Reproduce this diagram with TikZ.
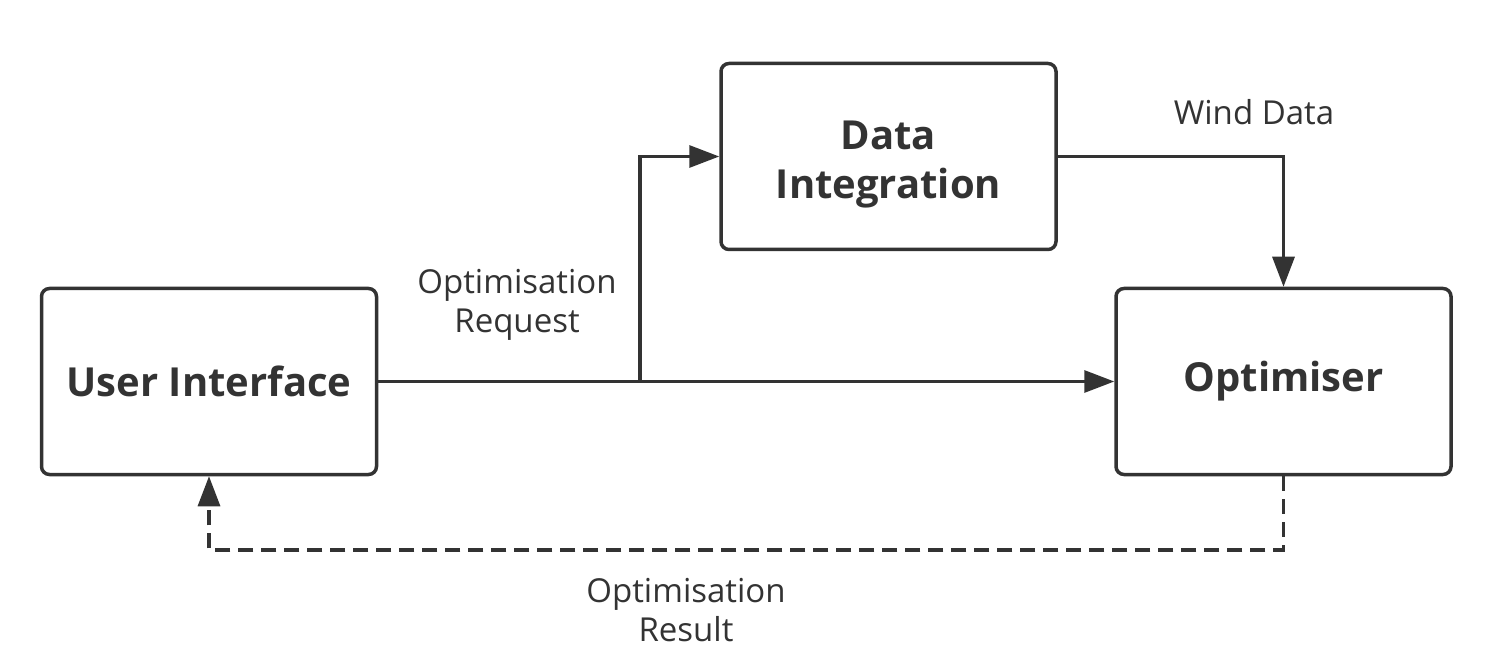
\documentclass[tikz,border=0pt]{standalone}
\usepackage{fontspec}
\setmainfont{Open Sans}
\usetikzlibrary{arrows.meta}
\definecolor{ink}{HTML}{333333}
\tikzset{
  box/.style={draw=ink, line width=1.75pt, rounded corners=4pt, minimum width=167.5pt, minimum height=93pt, align=center, text=ink, font=\bfseries\fontsize{20}{24.5}\selectfont, inner sep=0pt},
  lbl/.style={text=ink, align=center, font=\fontsize{16.5}{19.5}\selectfont, inner sep=0pt},
  conn/.style={draw=ink, line width=1.6pt, -{Triangle[length=15pt,width=11pt]}},
  dashconn/.style={conn, dash pattern=on 7.5pt off 4pt}
}
\begin{document}
\begin{tikzpicture}[x=0.5pt,y=-0.5pt]
\useasboundingbox (0,0) rectangle (1488,662);
\node[box] (ui) at (209,381.5) {User Interface};
\node[box] (di) at (888.5,156.5) {\raisebox{-9pt}[0pt][0pt]{\begin{tabular}{@{}c@{}}Data\\Integration\end{tabular}}};
\node[box] (opt) at (1283.5,381.5) {Optimiser};
\coordinate (br) at (640,381.5);
\coordinate (low) at (0,550);
\draw[conn] (ui.east) -- (opt.west);
\draw[conn] (br) |- (di.west);
\draw[conn] (di.east) -| (opt.north);
\draw[dashconn] (opt.south) -- (opt.south |- low) -| (ui.south);
\node[lbl] (l1) at (517,305) {Optimisation\\Request};
\node[lbl] (l2) at (1254,112) {Wind Data};
\node[lbl] (l3) at (686,610) {Optimisation\\Result};
\end{tikzpicture}
\end{document}
